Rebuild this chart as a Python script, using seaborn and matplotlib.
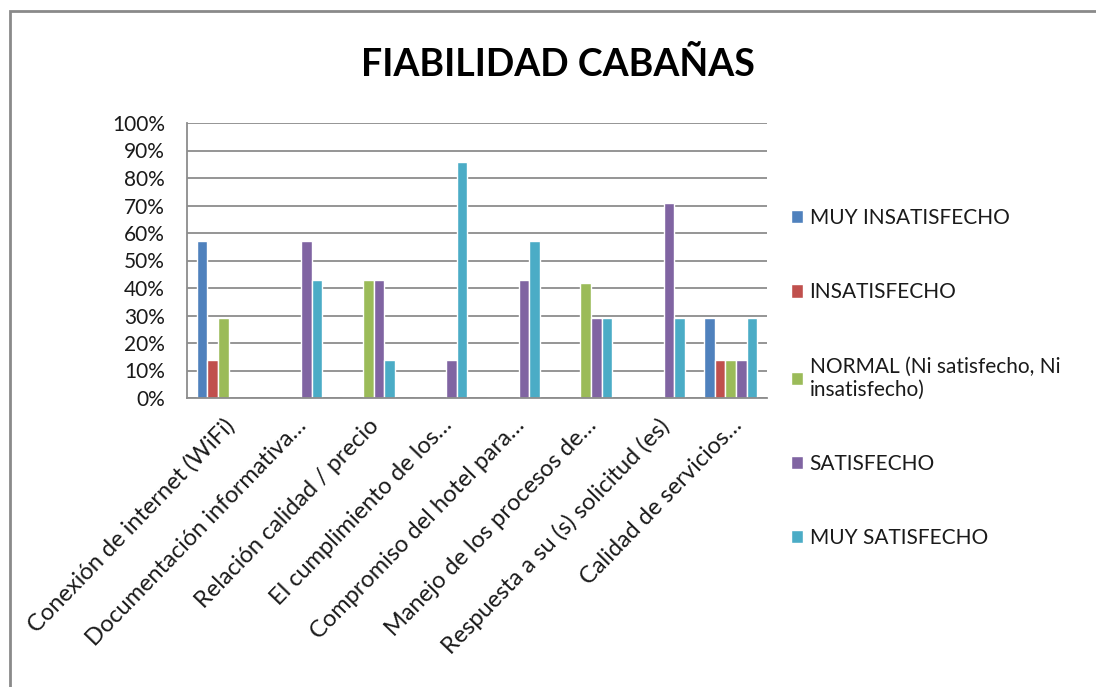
import pandas as pd
import seaborn as sns
import matplotlib.pyplot as plt
from matplotlib.patches import Rectangle
from matplotlib.ticker import PercentFormatter

# categories / series / values (% of respondents)
categories = [
    "Conexión de internet (WiFi)",
    "Documentación informativa…",
    "Relación calidad / precio",
    "El cumplimiento de los…",
    "Compromiso del hotel para…",
    "Manejo de los procesos de…",
    "Respuesta a su (s) solicitud (es)",
    "Calidad de servicios…",
]
series = [
    "MUY INSATISFECHO",
    "INSATISFECHO",
    "NORMAL (Ni satisfecho, Ni\ninsatisfecho)",
    "SATISFECHO",
    "MUY SATISFECHO",
]
muy_insatisfecho = [57, 0, 0, 0, 0, 0, 0, 29]
insatisfecho = [14, 0, 0, 0, 0, 0, 0, 14]
normal = [29, 0, 43, 0, 0, 42, 0, 14]
satisfecho = [0, 57, 43, 14, 43, 29, 71, 14]
muy_satisfecho = [0, 43, 14, 86, 57, 29, 29, 29]
colors = ["#4F81BD", "#C0504D", "#9BBB59", "#8064A2", "#4BACC6"]

values = [muy_insatisfecho, insatisfecho, normal, satisfecho, muy_satisfecho]
rows = []
for s, vals in zip(series, values):
    for c, v in zip(categories, vals):
        rows.append({"pregunta": c, "nivel": s, "pct": v})
df = pd.DataFrame(rows)

sns.set_style("white")
plt.rcParams["font.family"] = ["Lato", "DejaVu Sans"]

fig = plt.figure(figsize=(10.96, 6.87), dpi=100)
ax = fig.add_axes([187 / 1096, 1 - 398 / 687, 580 / 1096, 275 / 687])

sns.barplot(data=df, x="pregunta", y="pct", hue="nivel", palette=colors,
            width=0.73, saturation=1, ax=ax, legend=True)

ax.set_ylim(0, 100)
ax.set_yticks(range(0, 101, 10))
ax.yaxis.set_major_formatter(PercentFormatter(decimals=0))
ax.set_xlim(-0.5, len(categories) - 0.5)
ax.grid(axis="y", color="#8c8c8c", lw=1.3)
ax.set_axisbelow(True)
ax.set_xlabel("")
ax.set_ylabel("")
for side in ["top", "right"]:
    ax.spines[side].set_visible(False)
for side in ["left", "bottom"]:
    ax.spines[side].set_color("#8c8c8c")
    ax.spines[side].set_linewidth(1.3)

ax.tick_params(axis="y", length=0, pad=16, labelsize=15, labelcolor="#1a1a1a")
ax.tick_params(axis="x", length=0, pad=12, labelsize=17, labelcolor="#1a1a1a")
plt.setp(ax.get_xticklabels(), rotation=46, ha="right", rotation_mode="anchor")

# legend on the right
handles, labels = ax.get_legend_handles_labels()
ax.get_legend().remove()
fig.legend(handles, labels, loc="center left", bbox_to_anchor=(772 / 1096, 1 - 378 / 687),
           frameon=False, fontsize=15, labelspacing=2.6, handlelength=0.6,
           handleheight=0.6, handletextpad=0.3, labelcolor="#1a1a1a")

fig.text(558 / 1096, 1 - 65 / 687, "FIABILIDAD CABAÑAS", ha="center", va="center",
         fontsize=27, fontweight="bold", color="black")

# outer chart border
fig.patches.append(Rectangle((10 / 1096, -0.05), 1.1, 1 - 11 / 687 + 0.05,
                             transform=fig.transFigure, fill=False,
                             edgecolor="#8a8a8a", lw=2))

fig.savefig("out.png", dpi=100)
